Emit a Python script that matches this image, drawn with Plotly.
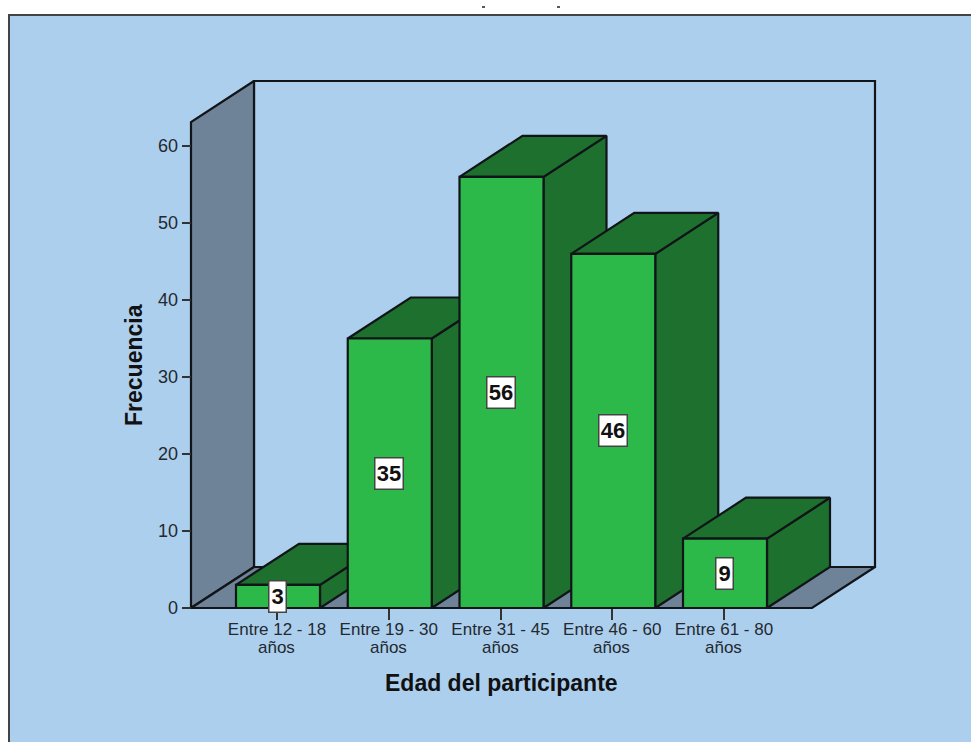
import plotly.graph_objects as go

categories = ["Entre 12 - 18", "Entre 19 - 30", "Entre 31 - 45", "Entre 46 - 60", "Entre 61 - 80"]
category_unit = "años"
values = [3, 35, 56, 46, 9]
y_ticks = [0, 10, 20, 30, 40, 50, 60]

W, H = 971, 742
# frame of the plotly axes (slightly larger than the drawn box so nothing is cut)
FR_L, FR_R, FR_B, FR_T = 182.0, 881.0, 620.0, 75.0
# drawn box
PX_X0, PX_X1, PX_Y0, PX_Y1 = 191.0, 875.0, 608.0, 81.0
PX_PER_CAT = 111.75
PX_PER_UNIT = 7.7
CAT0_PX = 278.0


def dx(px):
    return (px - CAT0_PX) / PX_PER_CAT


def dy(px):
    return (PX_Y0 - px) / PX_PER_UNIT


def px_paper(px):
    return (px - FR_L) / (FR_R - FR_L)


def py_paper(py):
    return (FR_B - py) / (FR_B - FR_T)


xpos = list(range(len(categories)))
x_lo, x_hi = dx(PX_X0), dx(PX_X1)
y_hi = dy(PX_Y1)
DX = 63 / PX_PER_CAT
DY = 41 / PX_PER_UNIT
HALF = 42 / PX_PER_CAT
WALL_TOP = y_hi - DY
TICK_NUDGE = 1 / PX_PER_CAT

BAR_FRONT = "#2DB84A"
BAR_DARK = "#1D702D"
WALL = "#6E8398"
PANEL = "#ADCFEE"
INK = "#111418"
LABEL = "#23292F"

fig = go.Figure()


def poly(xs, ys, fill, width=2.2):
    fig.add_trace(go.Scatter(x=xs + xs[:1], y=ys + ys[:1], mode="lines", fill="toself",
                             fillcolor=fill, line=dict(color=INK, width=width),
                             hoverinfo="skip", showlegend=False, cliponaxis=False))


# back wall outline, side wall and floor
poly([x_lo + DX, x_hi, x_hi, x_lo + DX], [DY, DY, y_hi, y_hi], PANEL)
poly([x_lo, x_lo + DX, x_lo + DX, x_lo], [0, DY, y_hi, WALL_TOP], WALL)
poly([x_lo, x_lo + DX, x_hi, x_hi - DX], [0, DY, DY, 0], WALL)

# bars: side, top, front from the three faces of each value
for x, v in zip(xpos, values):
    l, r = x - HALF, x + HALF
    poly([r, r + DX, r + DX, r], [0, DY, v + DY, v], BAR_DARK)
    poly([l, r, r + DX, l + DX], [v, v, v + DY, v + DY], BAR_DARK)
    poly([l, r, r, l], [0, 0, v, v], BAR_FRONT)

# value labels
for x, v in zip(xpos, values):
    fig.add_annotation(x=x - 0.6 * TICK_NUDGE, y=v / 2, text=f"<b>{v}</b>", showarrow=False,
                       font=dict(family="Liberation Sans", size=22, color="#111111"),
                       width=27 if v >= 10 else 16, height=30, align="center", valign="middle",
                       bgcolor="white", bordercolor="#444444", borderwidth=1.5, borderpad=0)

# second line of every category label
for x in xpos:
    fig.add_annotation(xref="paper", yref="paper", xanchor="center", yanchor="middle",
                       x=px_paper(CAT0_PX + x * PX_PER_CAT - 1.5),
                       y=py_paper(647), text=category_unit, showarrow=False,
                       font=dict(family="Liberation Sans", size=17, color=LABEL))

# axis titles
fig.add_annotation(xref="paper", yref="paper", xanchor="center", yanchor="middle",
                   x=px_paper(501.5), y=py_paper(683),
                   text="<b>Edad del participante</b>", showarrow=False,
                   font=dict(family="Liberation Sans", size=23, color="#111111"))
fig.add_annotation(xref="paper", yref="paper", xanchor="center", yanchor="middle",
                   x=px_paper(134), y=py_paper(365),
                   text="<b>Frecuencia</b>", textangle=-90, showarrow=False,
                   font=dict(family="Liberation Sans", size=23, color="#111111"))

fig.update_xaxes(range=[dx(FR_L), dx(FR_R)], tickmode="array",
                 tickvals=[x - TICK_NUDGE for x in xpos], ticktext=categories,
                 ticks="inside", ticklen=11, tickwidth=2, tickcolor="#333333",
                 showgrid=False, zeroline=False, showline=False, ticklabelstandoff=-3,
                 tickfont=dict(family="Liberation Sans", size=17, color=LABEL))
fig.update_yaxes(range=[dy(FR_B), dy(FR_T)], tickmode="array", tickvals=y_ticks,
                 ticks="inside", ticklen=9, tickwidth=2, tickcolor="#333333",
                 showgrid=False, zeroline=False, showline=False, ticklabelstandoff=3,
                 tickfont=dict(family="Liberation Sans", size=18, color=LABEL))

fig.update_layout(
    width=W, height=H, autosize=False, showlegend=False,
    margin=dict(l=FR_L, r=W - FR_R, t=FR_T, b=H - FR_B, pad=0),
    paper_bgcolor="white", plot_bgcolor="rgba(0,0,0,0)",
    shapes=[
        dict(type="rect", xref="paper", yref="paper", layer="below",
             x0=px_paper(9), x1=px_paper(W + 20), y0=py_paper(H + 20), y1=py_paper(15),
             fillcolor=PANEL, line=dict(color="#444444", width=2)),
        dict(type="line", xref="paper", yref="paper", layer="above",
             x0=px_paper(482), x1=px_paper(485), y0=py_paper(7), y1=py_paper(7),
             line=dict(color="#222222", width=1.5)),
        dict(type="line", xref="paper", yref="paper", layer="above",
             x0=px_paper(557), x1=px_paper(560), y0=py_paper(7), y1=py_paper(7),
             line=dict(color="#222222", width=1.5)),
    ],
)

fig.write_html("out.html", config=dict(displayModeBar=False),
               post_script="document.body.style.margin='0';document.body.style.overflow='hidden';")
